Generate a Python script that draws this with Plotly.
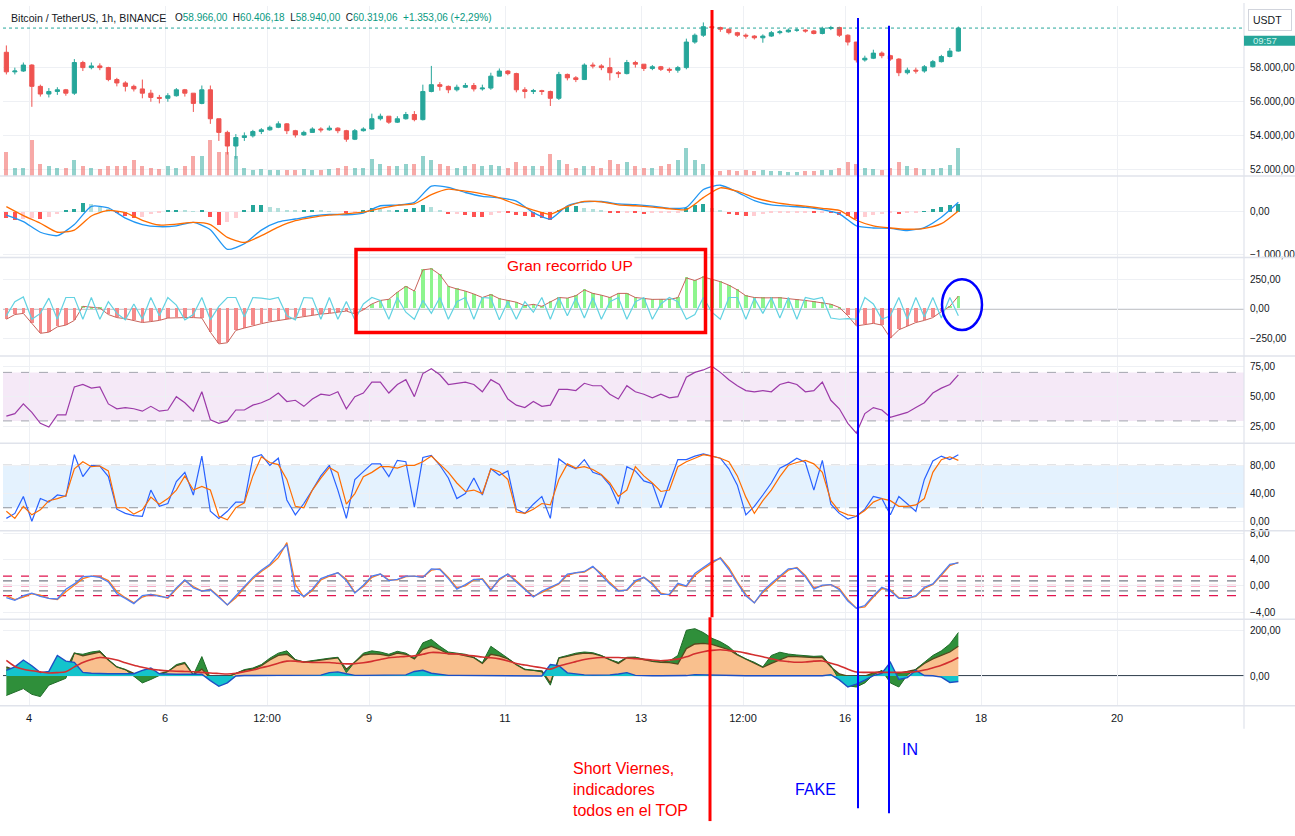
import pandas as pd
import plotly.graph_objects as go

# Reference pixel positions are converted to figure fractions.
W, H = 1295, 836
FW, FH = 1295, 836

# ---------------- data (3-hour steps) ----------------
t3 = pd.date_range("2024-09-03 16:00", periods=113, freq="3h")
t6 = pd.date_range("2024-09-03 16:00", periods=57, freq="6h")

first_open = 58900
close = [57750, 57800, 58150, 56900, 56450, 56600, 56700, 56500, 58300, 58000,
         58100, 58000, 57300, 57100, 56900, 56750, 56500, 56250, 56200, 56350,
         56700, 56500, 55900, 56700, 55000, 54200, 53400, 53900, 54000, 54250,
         54350, 54500, 54700, 54300, 54050, 54200, 54400, 54350, 54450, 54300,
         53800, 54300, 54400, 55000, 55150, 54800, 55000, 55250, 54950, 56600,
         57000, 56900, 56700, 56850, 56950, 56750, 56800, 57500, 57800, 57650,
         56700, 56600, 56650, 56600, 56200, 57600, 57400, 57300, 58150, 58100,
         58000, 57700, 57650, 58300, 58200, 57950, 58050, 57900, 57850, 58000,
         59500, 59900, 60400, 60350, 60250, 60050, 59900, 59850, 59750, 59850,
         60050, 60100, 60200, 60200, 60150, 60000, 60300, 60350, 59900, 59500,
         58450, 58550, 58850, 58700, 58500, 57700, 57850, 57800, 58050, 58350,
         58650, 58970, 60319.06]
high = [59300, 58000, 58300, 58200, 57000, 56800, 56850, 56750, 58500, 58400,
        58300, 58250, 58050, 57400, 57200, 57000, 57300, 56700, 56400, 56500,
        56800, 56750, 56500, 56950, 56950, 55000, 54300, 54100, 54200, 54350,
        54450, 54600, 54850, 54750, 54350, 54300, 54500, 54500, 54600, 54500,
        54350, 54400, 54500, 55300, 55300, 55150, 55150, 55400, 55450, 57000,
        58100, 57150, 56950, 57000, 57100, 57100, 57000, 57700, 57950, 57850,
        57700, 56850, 56750, 56700, 56650, 57750, 57650, 57500, 58250, 58300,
        58200, 58580, 57800, 58450, 58400, 58200, 58150, 58100, 58000, 58100,
        59700, 60000, 60650, 60550, 60400, 60300, 60100, 60000, 59900, 59950,
        60150, 60200, 60300, 60300, 60250, 60200, 60400, 60450, 60400, 59950,
        59500, 58700, 59050, 58950, 58750, 58550, 58000, 58000, 58150, 58450,
        58750, 59150, 60406.18]
low = [57600, 57600, 57750, 55700, 56300, 56250, 56400, 56350, 56400, 57800,
       57900, 57850, 57200, 56900, 56600, 56600, 56200, 56000, 55900, 56000,
       56300, 56300, 55400, 55850, 54700, 53700, 52900, 52650, 53700, 53900,
       54100, 54300, 54450, 54100, 53900, 54000, 54200, 54200, 54300, 54150,
       53650, 53750, 54250, 54350, 54900, 54700, 54750, 54950, 54850, 54900,
       56550, 56650, 56500, 56600, 56800, 56600, 56650, 56700, 57500, 57550,
       56550, 56200, 56450, 56400, 55750, 56100, 57250, 57150, 57300, 57950,
       57850, 57250, 57400, 57600, 58000, 57800, 57850, 57800, 57700, 57700,
       57900, 59400, 59800, 60200, 60100, 59950, 59800, 59700, 59650, 59460,
       59800, 59950, 60050, 60100, 60050, 59950, 59950, 60200, 59800, 59300,
       58300, 58350, 58500, 58550, 58400, 57500, 57600, 57650, 57700, 58000,
       58300, 58600, 58940.00]
volume = [3.0, 1.0, 1.0, 4.5, 1.5, 1.2, 1.0, 1.0, 2.0, 1.2,
          1.0, 0.9, 1.3, 1.2, 1.3, 2.0, 1.3, 1.0, 0.9, 1.2,
          1.0, 1.3, 2.5, 2.5, 4.5, 3.0, 3.0, 2.5, 1.0, 0.8,
          0.9, 0.8, 0.8, 0.8, 0.8, 0.9, 0.8, 0.8, 0.9, 1.0,
          1.2, 1.0, 1.0, 2.2, 1.5, 1.2, 1.3, 1.5, 1.5, 2.5,
          2.0, 1.5, 1.2, 1.0, 1.2, 1.5, 1.2, 1.4, 1.2, 1.0,
          1.8, 1.3, 1.2, 1.2, 2.8, 2.0, 1.5, 1.0, 1.3, 1.2,
          1.0, 2.0, 1.5, 1.8, 1.2, 1.0, 1.0, 1.2, 1.5, 2.0,
          3.5, 2.0, 1.5, 0.7, 0.6, 0.7, 0.6, 0.7, 0.6, 0.8,
          0.6, 0.6, 0.5, 0.5, 0.6, 0.6, 0.7, 0.8, 1.0, 1.8,
          1.5, 1.0, 0.9, 0.8, 1.0, 1.8, 1.3, 1.0, 0.9, 0.9,
          1.0, 1.4, 3.6]

macd = [-80, -230, -480, -560, -300, 125, 90, -150, -300, -350,
        -330, -250, -420, -880, -750, -430, -240, -170, -100, -60,
        -70, -30, 140, 155, 220, 600, 570, 450, 360, 325,
        250, -20, -170, 140, 230, 240, 185, 165, 130, 80,
        100, 520, 620, 460, 260, 160, 130, 100, 50, -50,
        -330, -380, -390, -440, -370, -130, 220]
macd_signal = [120, -90, -270, -480, -430, -100, 30, -20, -200, -310,
               -290, -250, -300, -600, -720, -560, -360, -210, -130, -80,
               -45, -10, 80, 150, 185, 400, 530, 480, 420, 325,
               170, 40, -60, 120, 240, 230, 160, 140, 110, 70,
               50, 330, 560, 480, 330, 230, 170, 130, 80, 30,
               -200, -330, -380, -410, -390, -280, 20]
macd_hist = [-150, -190, -170, -150, -170, -120, -50, 20, 60, 200,
             180, 120, 60, -20, -100, -150, -120, -60, -30, 20,
             40, 30, 10, 20, -120, -300, -250, -150, 50, 150,
             150, 120, 80, 40, 20, 20, 30, 20, 10, 0,
             -40, -20, 20, 80, 60, 40, 40, 60, 100, 150,
             120, 40, -60, -60, -80, -120, -130, -80, -30, -40,
             -80, -100, -120, -150, -200, 30, 120, 140, 100, 60,
             20, -20, -40, -20, -30, -50, -30, -20, -15, -10,
             100, 170, 190, 80, 20, -50, -80, -100, -90, -60,
             -40, -30, -20, -20, -10, -20, -10, -30, -70, -110,
             -170, -120, -80, -60, -40, -60, -20, -10, 10, 60,
             110, 160, 190]

osc_hist = [-90, -50, -40, -130, -210, -200, -155, -140, -100, 20,
            10, 5, -50, -76, -85, -100, -118, -110, -100, -80,
            -76, -76, -76, -80, -200, -300, -290, -185, -165, -145,
            -128, -112, -100, -90, -76, -65, -55, -46, -40, -30,
            -20, -45, -10, 40, 70, 80, 140, 190, 150, 330,
            340, 290, 190, 168, 150, 125, 95, 120, 85, 70,
            55, 25, 37, 20, 60, 95, 90, 110, 160, 130,
            115, 95, 130, 130, 95, 85, 79, 80, 80, 93,
            262, 240, 270, 250, 230, 200, 160, 110, 95, 92,
            93, 93, 85, 80, 70, 60, 50, 38, 10, -60,
            -147, -135, -125, -140, -250, -180, -150, -118, -100, -76,
            -25, 20, 107]
osc_line = [-60, 60, 100, -90, -40, 90, -90, 95, 95, -90,
            95, -90, 60, -40, -95, 40, -90, 95, -60, 95,
            30, -95, -50, 95, -95, 20, 95, 95, -70, 95,
            90, 80, 95, -60, -95, 95, 90, -90, 95, -90,
            60, -95, 40, 95, 70, -90, 95, -30, -90, 70,
            -40, 95, -90, 60, 95, -90, 95, 90, -95, 60,
            -90, 60, -30, 95, -90, 95, -60, 90, -80, 95,
            -90, 60, 95, -90, 60, 95, -90, 40, 95, 60,
            -90, -50, 95, -30, -90, 95, 95, -90, 90, -40,
            95, -80, 95, -90, 95, 80, 95, -80, -90, -85,
            -90, 95, 40, -90, -60, 95, -90, 95, -70, 95,
            -80, 95, -60]

rsi = [34, 36, 44, 37, 28, 25, 35, 35, 58, 60,
       57, 58, 44, 40, 41, 40, 38, 42, 38, 39,
       50, 45, 38, 54, 31, 28, 30, 39, 39, 43,
       45, 48, 53, 46, 47, 42, 48, 52, 51, 54,
       40, 50, 53, 62, 62, 53, 60, 64, 50, 69,
       73, 68, 60, 61, 62, 60, 54, 64, 60, 48,
       43, 41, 46, 42, 43, 56, 56, 55, 61, 59,
       59, 52, 48, 59, 54, 52, 49, 52, 49, 50,
       66, 70, 72, 75, 70, 64, 59, 55, 54, 55,
       54, 60, 62, 60, 54, 55, 62, 47, 40, 28,
       20, 36, 41, 39, 33, 35, 37, 41, 45, 53,
       57, 60, 68]

stoch_k = [5, 12, 36, 1, 33, 28, 38, 36, 95, 64,
           80, 79, 64, 18, 12, 9, 8, 45, 22, 26,
           57, 70, 38, 93, 15, 5, 15, 28, 28, 91,
           95, 80, 90, 31, 10, 26, 45, 65, 80, 45,
           5, 60, 71, 82, 82, 64, 87, 85, 21, 91,
           94, 80, 62, 33, 40, 62, 38, 75, 66, 72,
           18, 12, 25, 36, 5, 89, 80, 75, 88, 70,
           66, 52, 25, 78, 72, 58, 54, 20, 55, 88,
           88, 93, 96, 93, 90, 75, 52, 10, 22, 38,
           55, 76, 82, 90, 84, 45, 87, 25, 12, 4,
           8, 18, 36, 33, 10, 36, 26, 15, 60, 86,
           93, 88, 95]
stoch_d = [15, 5, 22, 10, 17, 30, 33, 37, 75, 85,
           78, 79, 72, 20, 20, 11, 17, 35, 25, 33,
           45, 65, 45, 50, 45, 8, 3, 20, 27, 65,
           92, 84, 81, 60, 22, 20, 45, 62, 77, 70,
           25, 40, 64, 70, 78, 78, 76, 80, 80, 85,
           93, 82, 70, 55, 43, 45, 40, 75, 71, 60,
           14, 12, 18, 26, 24, 60, 82, 76, 78, 74,
           67, 55, 36, 45, 78, 65, 55, 43, 45, 78,
           85, 90, 95, 93, 90, 85, 65, 35, 12, 30,
           45, 64, 80, 84, 87, 82, 70, 30, 15, 10,
           8, 16, 28, 33, 30, 22, 22, 24, 33, 70,
           88, 92, 87]

osc2_fast = [-1.8, -2.2, -1.5, -1.1, -1.6, -1.9, -2.0, -0.5, 0.3, 1.4,
             1.5, 1.3, 0.6, -1.2, -1.9, -2.7, -1.5, -1.3, -1.6, -1.8,
             -0.3, 0.9, -0.3, -0.8, -0.6, -1.8, -2.9, -1.5, -0.1, 1.3,
             2.4, 3.3, 4.9, 6.3, -0.8, -1.6, -0.5, 1.1, 1.6, 2.0,
             0.8, -1.1, 0.1, 1.5, 1.8, 0.8, 1.0, 1.5, 1.5, 1.3,
             2.6, 2.5, 1.1, -0.5, 0.2, 1.0, 1.0, -0.7, 1.1, 1.8,
             0.6, -0.6, -1.7, -0.8, -0.2, 0.4, 1.8, 2.0, 2.2, 3.0,
             1.7, 0.3, -0.8, -0.6, 0.8, 1.3, 0.2, -1.3, -1.3, 0.4,
             0.0, 1.9, 2.8, 3.7, 4.2, 2.5, 0.4, -1.5, -2.6, -0.8,
             0.4, 1.5, 2.6, 2.7, 1.4, -0.5, 0.1, 0.2, -0.6, -2.3,
             -3.4, -3.0, -1.5, -0.2, -0.8, -1.9, -1.9, -1.5, -0.2, 0.3,
             1.8, 3.3, 3.5]
osc2_slow = [-1.5, -2.1, -1.7, -1.2, -1.4, -1.9, -2.1, -0.9, 0.1, 1.1,
             1.5, 1.4, 0.8, -0.9, -1.8, -2.6, -1.7, -1.3, -1.5, -1.9,
             -0.5, 0.8, -0.1, -0.8, -0.5, -1.6, -2.9, -1.8, -0.3, 1.1,
             2.2, 3.1, 4.3, 6.6, 0.2, -1.7, -0.7, 0.9, 1.5, 2.0,
             1.0, -1.0, -0.1, 1.3, 1.8, 0.9, 0.9, 1.4, 1.5, 1.3,
             2.4, 2.6, 1.3, -0.3, 0.0, 0.9, 1.1, -0.5, 0.9, 1.8,
             0.8, -0.4, -1.6, -1.0, -0.3, 0.3, 1.6, 2.0, 2.1, 2.9,
             1.9, 0.5, -0.7, -0.7, 0.6, 1.3, 0.4, -1.1, -1.4, 0.2,
             -0.1, 1.6, 2.6, 3.5, 4.3, 2.8, 0.6, -1.3, -2.6, -1.0,
             0.2, 1.3, 2.4, 2.8, 1.6, -0.3, 0.0, 0.2, -0.4, -2.1,
             -3.4, -3.2, -1.7, -0.4, -0.6, -1.8, -1.9, -1.6, -0.4, 0.2,
             1.6, 3.1, 3.6]
osc2_levels = [1.5, 0.75, 0.0, -0.75, -1.5]

area_base = [40, 25, 12, 5, 8, 5, 12, 28, 100, 88,
             97, 105, 70, 40, 28, 12, 10, 10, 10, 20,
             45, 55, 5, 30, -10, -17, -3, 12, 25, 30,
             45, 70, 90, 95, 70, 60, 65, 70, 75, 80,
             30, 60, 92, 97, 95, 88, 100, 95, 75, 117,
             130, 115, 97, 97, 90, 80, 55, 95, 88, 75,
             50, 28, 25, 22, -30, 78, 86, 95, 100, 98,
             88, 70, 55, 80, 81, 72, 64, 60, 59, 52,
             120, 140, 143, 138, 125, 115, 92, 75, 58, 38,
             55, 72, 86, 85, 82, 81, 81, 40, 9, 0,
             0, 0, 14, 20, 18, 13, 20, 28, 55, 75,
             90, 105, 130]
area_top = [-85, -70, -55, -80, -90, -40, -25, -10, 100, 95,
            105, 110, 72, 40, 28, 0, -30, -15, 2, 20,
            50, 60, 5, 85, -10, -25, -5, 12, 28, 35,
            50, 78, 100, 110, 72, 62, 68, 72, 78, 82,
            15, 62, 100, 110, 105, 95, 108, 100, 78, 145,
            160, 130, 105, 100, 95, 82, 58, 130, 105, 78,
            50, 30, 25, 18, -40, 80, 90, 100, 105, 102,
            90, 72, 60, 82, 82, 74, 66, 62, 65, 90,
            200, 207, 190, 165, 150, 128, 95, 75, 60, 40,
            90, 104, 96, 92, 90, 86, 88, 45, -17, -42,
            -48, -30, 5, 25, -30, -48, 5, 30, 60, 90,
            110, 140, 190]
area_flow = [25, 40, 70, 45, 15, 20, 90, 65, 60, 16,
             12, 10, 10, 10, 10, 10, 25, 35, 10, 8,
             8, 8, 8, 8, -20, -45, -30, 0, 2, 3,
             3, 3, 3, 3, 3, 3, 4, 4, 15, 18,
             10, 3, 3, 3, 3, 5, 5, 5, 20, 25,
             12, 8, 3, 3, 3, 3, 3, 2, 2, 2,
             2, 2, 2, 0, 50, 45, 14, 8, 5, 4,
             4, 5, 9, 15, 3, 1, 1, 1, 1, 1,
             2, 6, 5, 2, 1, 1, 1, 1, 1, 1,
             1, 1, 1, 1, 1, 1, 1, 6, -17, -48,
             -35, -18, 2, 12, 60, -15, -7, 25, 2, 1,
             -5, -28, -24]
area_avg = [68, 42, 30, 23, 18, 13, 15, 19, 40, 59,
            72, 81, 78, 70, 58, 47, 38, 30, 26, 23,
            21, 20, 19, 16, 13, 11, 9, 12, 19, 26,
            36, 45, 56, 65, 65, 61, 59, 59, 59, 56,
            53, 54, 58, 64, 72, 80, 83, 86, 88, 95,
            103, 102, 98, 96, 92, 88, 83, 80, 75, 66,
            55, 48, 42, 36, 30, 44, 54, 63, 72, 78,
            81, 81, 81, 79, 76, 73, 70, 67, 70, 74,
            84, 97, 106, 112, 115, 111, 107, 100, 92, 84,
            75, 67, 63, 60, 61, 65, 66, 56, 45, 30,
            18, 16, 16, 16, 16, 16, 17, 19, 26, 36,
            47, 62, 81]

x_tick_vals = ["2024-09-04", "2024-09-06", "2024-09-07 12:00", "2024-09-09", "2024-09-11",
               "2024-09-13", "2024-09-14 12:00", "2024-09-16", "2024-09-18", "2024-09-20"]
x_tick_text = ["4", "6", "12:00", "9", "11", "13", "12:00", "16", "18", "20"]
price_ticks = [52000, 54000, 56000, 58000]
macd_ticks = [0, -1000]
osc_ticks = [250, 0, -250]
rsi_ticks = [75, 50, 25]
stoch_ticks = [80, 40, 0]
osc2_ticks = [8, 4, 0, -4]
area_ticks = [200, 0]

# ---------------- helpers ----------------
def eu(v):
    s = f"{abs(v):,.2f}".replace(",", "~").replace(".", ",").replace("~", ".")
    return ("\u2212" if v < 0 else "") + s

def px(xp):
    return min(max(xp / FW, 0), 1)

def py(yp):
    return min(max(1 - yp / FH, 0), 1)

def dom(top, bottom):
    return [py(bottom), py(top)]

FONT = "Liberation Sans, Arial, sans-serif"
UP, DN = "#26a69a", "#ef5350"
XD = [px(3), px(1244)]

open_ = [first_open] + close[:-1]
vol_colors = ["rgba(38,166,154,0.5)" if c >= o else "rgba(239,83,80,0.5)" for o, c in zip(open_, close)]

hist_colors = []
prev = 0
for v in macd_hist:
    if v >= 0:
        hist_colors.append("#26a69a" if v >= prev else "#b2dfdb")
    else:
        hist_colors.append("#ff5252" if v < prev else "#ffcdd2")
    prev = v
osc_colors = ["#8ef58e" if v >= 0 else "#f58a8a" for v in osc_hist]

STEP = 3 * 3600 * 1000

fig = go.Figure()
fig.add_trace(go.Candlestick(x=t3, open=open_, high=high, low=low, close=close, yaxis="y",
                             increasing=dict(line=dict(color=UP, width=1), fillcolor=UP),
                             decreasing=dict(line=dict(color=DN, width=1), fillcolor=DN),
                             whiskerwidth=0, hoverinfo="skip"))
fig.add_trace(go.Bar(x=t3, y=volume, yaxis="y8", marker=dict(color=vol_colors, line=dict(width=0)),
                     width=STEP * 0.5))
fig.add_trace(go.Bar(x=t3, y=macd_hist, yaxis="y2", marker=dict(color=hist_colors, line=dict(width=0)),
                     width=STEP * 0.5))
fig.add_trace(go.Scatter(x=t6, y=macd, yaxis="y2", mode="lines",
                         line=dict(color="#2196f3", width=1.3, shape="spline", smoothing=0.6)))
fig.add_trace(go.Scatter(x=t6, y=macd_signal, yaxis="y2", mode="lines",
                         line=dict(color="#ff6d00", width=1.3, shape="spline", smoothing=0.6)))
fig.add_trace(go.Bar(x=t3, y=osc_hist, yaxis="y3", marker=dict(color=osc_colors, line=dict(width=0)),
                     width=STEP * 0.4))
fig.add_trace(go.Scatter(x=t3, y=osc_hist, yaxis="y3", mode="lines", line=dict(color="#c8645c", width=1)))
fig.add_trace(go.Scatter(x=t3, y=osc_line, yaxis="y3", mode="lines", line=dict(color="#62d2e2", width=1.2)))
fig.add_trace(go.Scatter(x=t3, y=rsi, yaxis="y4", mode="lines", line=dict(color="#9c3aa8", width=1.2)))
fig.add_trace(go.Scatter(x=t3, y=stoch_k, yaxis="y5", mode="lines", line=dict(color="#2962ff", width=1.2)))
fig.add_trace(go.Scatter(x=t3, y=stoch_d, yaxis="y5", mode="lines", line=dict(color="#ff6d00", width=1.2)))
fig.add_trace(go.Scatter(x=t3, y=osc2_slow, yaxis="y6", mode="lines", line=dict(color="#ff7a1a", width=1.3)))
fig.add_trace(go.Scatter(x=t3, y=osc2_fast, yaxis="y6", mode="lines", line=dict(color="#4f7ff5", width=1.3)))
fig.add_trace(go.Scatter(x=t3, y=area_base, yaxis="y7", mode="lines", fill="tozeroy",
                         fillcolor="#f9c08e", line=dict(color="#56481c", width=1.3)))
fig.add_trace(go.Scatter(x=t3, y=area_top, yaxis="y7", mode="lines", fill="tonexty",
                         fillcolor="#2f8f3a", line=dict(color="#1f6b28", width=1)))
fig.add_trace(go.Scatter(x=t3, y=area_flow, yaxis="y7", mode="lines", fill="tozeroy",
                         fillcolor="#14c4cc", line=dict(color="#1d4fc4", width=1.4)))
fig.add_trace(go.Scatter(x=t3, y=area_avg, yaxis="y7", mode="lines",
                         line=dict(color="#d32f2f", width=1.6, shape="spline", smoothing=0.8)))


def yax(d, rng, ticks, **kw):
    a = dict(domain=d, range=rng, side="right", anchor="x", tickvals=ticks,
             ticktext=[eu(v) for v in ticks], showgrid=True, gridcolor="#eef0f4", gridwidth=1,
             zeroline=False, showline=False, ticks="", ticklabelstandoff=5,
             tickfont=dict(family=FONT, size=10, color="#131722"), fixedrange=True)
    a.update(kw)
    return a

shapes = []
def hline(yref, val, color, width=1, dash="solid"):
    shapes.append(dict(type="line", xref="paper", yref=yref, x0=XD[0], x1=XD[1], y0=val, y1=val,
                       line=dict(color=color, width=width, dash=dash), layer="below"))

def pline(x0, y0, x1, y1, color, width):
    shapes.append(dict(type="line", xref="paper", yref="paper", x0=px(x0), x1=px(x1), y0=py(y0), y1=py(y1),
                       line=dict(color=color, width=width)))

shapes.append(dict(type="rect", xref="paper", yref="y4", x0=XD[0], x1=XD[1], y0=30, y1=70,
                   fillcolor="rgba(156,39,176,0.10)", line=dict(width=0), layer="below"))
hline("y4", 70, "#a3a6af", 1, "dash")
hline("y4", 30, "#a3a6af", 1, "dash")
shapes.append(dict(type="rect", xref="paper", yref="y5", x0=XD[0], x1=XD[1], y0=20, y1=80,
                   fillcolor="rgba(33,150,243,0.12)", line=dict(width=0), layer="below"))
hline("y5", 80, "#8f929b", 1.2, "dash")
hline("y5", 20, "#8f929b", 1.2, "dash")
for lv in osc2_levels:
    if lv == 0:
        hline("y6", lv, "#f48fb1", 2, "dash")
    elif abs(lv) > 1:
        hline("y6", lv, "#e0154f", 1.2, "dash")
    else:
        hline("y6", lv, "#787b86", 1.2, "dash")
hline("y3", 0, "#2a2e39", 1.2)
hline("y7", 0, "#3d4a57", 2)
shapes.append(dict(type="line", xref="paper", yref="y", x0=XD[0], x1=XD[1], y0=close[-1], y1=close[-1],
                   line=dict(color="#26a69a", width=1, dash="dot")))

for yp in [174, 256, 355, 443, 531, 620, 707]:
    pline(0, yp, W, yp, "#e0e3eb", 1.5)
pline(1244, 0, 1244, 730, "#e0e3eb", 1.2)
shapes.append(dict(type="rect", xref="paper", yref="paper", x0=px(1244), x1=1, y0=py(43), y1=py(33),
                   fillcolor="#26a69a", line=dict(width=0)))

# hand-drawn marks
shapes.append(dict(type="rect", xref="paper", yref="paper", x0=px(356), x1=px(705.5), y0=py(331.5), y1=py(248),
                   line=dict(color="#ff0000", width=3.5)))
pline(712, 7, 712, 618, "#ff0000", 3)
pline(710, 618, 710, 823, "#ff0000", 3)
pline(858, 15, 858, 810, "#0000ff", 2)
pline(889, 23, 889, 815, "#0000ff", 2)
shapes.append(dict(type="circle", xref="paper", yref="paper", x0=px(942), x1=px(982), y0=py(329), y1=py(278),
                   line=dict(color="#0000ff", width=2.5)))

SEP = "&nbsp; "
ohlc = ("<span style='color:#131722'>O</span><span style='color:#089981'>58.966,00</span>"
        + SEP + "<span style='color:#131722'>H</span><span style='color:#089981'>60.406,18</span>"
        + SEP + "<span style='color:#131722'>L</span><span style='color:#089981'>58.940,00</span>"
        + SEP + "<span style='color:#131722'>C</span><span style='color:#089981'>60.319,06</span>"
        + SEP + "<span style='color:#089981'>+1.353,06 (+2,29%)</span>")

def note(text, x, y, size, color, xanchor="left", **kw):
    d = dict(text=text, xref="paper", yref="paper", x=px(x), y=py(y), xanchor=xanchor, yanchor="middle",
             showarrow=False, font=dict(family=FONT, size=size, color=color))
    d.update(kw)
    return d

annotations = [
    note("Bitcoin / TetherUS, 1h, BINANCE", 9, 15, 10.6, "#131722"),
    note(ohlc, 173, 15, 10, "#131722"),
    note("USDT&nbsp;&nbsp;", 1248, 17, 10.5, "#131722",
         bordercolor="#d1d4dc", borderwidth=1, borderpad=4, bgcolor="white"),
    note("09:57", 1251, 38, 9.5, "#d4f2ec"),
    note("Gran recorrido UP", 570, 264, 15.5, "#ff0000", xanchor="center", bgcolor="white"),
    note("Short Viernes,<br>indicadores<br>todos en el TOP", 571, 791, 16, "#ff0000", align="left"),
    note("FAKE", 815, 791, 16, "#0000ff", xanchor="center"),
    note("IN", 910, 751, 16, "#0000ff", xanchor="center"),
]

fig.update_layout(
    width=FW, height=FH, margin=dict(l=0, r=0, t=0, b=0),
    paper_bgcolor="white", plot_bgcolor="white", showlegend=False, hovermode=False,
    dragmode=False, bargap=0,
    xaxis=dict(domain=XD, anchor="y7", type="date",
               range=["2024-09-03 14:49", "2024-09-21 20:49"],
               tickvals=x_tick_vals, ticktext=x_tick_text, showgrid=True, gridcolor="#eef0f4",
               zeroline=False, showline=False, ticks="", ticklabelstandoff=4,
               tickfont=dict(family=FONT, size=11, color="#131722"),
               rangeslider=dict(visible=False), fixedrange=True),
    yaxis=yax(dom(3, 174), [51645, 61615], price_ticks),
    yaxis2=yax(dom(174, 256), [-1070, 837], macd_ticks),
    yaxis3=yax(dom(256, 355), [-402, 436], osc_ticks),
    yaxis4=yax(dom(355, 443), [11.5, 83.6], rsi_ticks),
    yaxis5=yax(dom(443, 531), [-12.6, 111], stoch_ticks),
    yaxis6=yax(dom(531, 620), [-5.1, 8.4], osc2_ticks),
    yaxis7=yax(dom(620, 707), [-130, 248], area_ticks),
    yaxis8=dict(domain=dom(3, 174), overlaying="y", range=[0, 21.5], visible=False, fixedrange=True),
    shapes=shapes, annotations=annotations,
)

FIT = ("var h=document.documentElement,b=document.body;"
       "h.style.margin='0';h.style.padding='0';h.style.overflow='hidden';"
       "b.style.margin='0';b.style.padding='0';b.style.overflow='hidden';")

fig.write_html("out.html", config={"displayModeBar": False}, post_script=FIT)
